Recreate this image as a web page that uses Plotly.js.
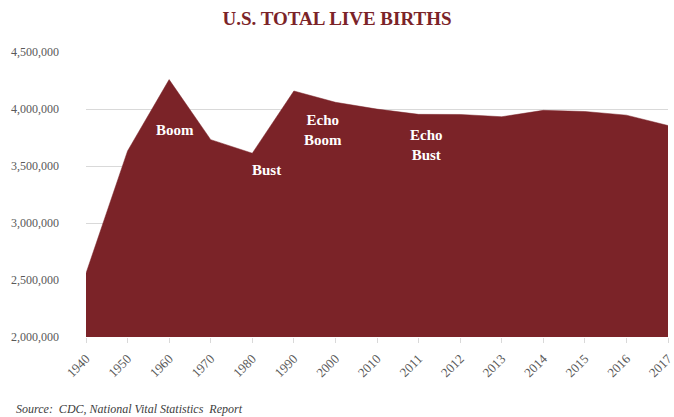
<!DOCTYPE html>
<html>
<head>
<meta charset="utf-8">
<script src="https://cdn.plot.ly/plotly-3.0.1.min.js"></script>
<style>html,body{margin:0;padding:0;background:#fff;}#chart{width:674px;height:417px;}</style>
</head>
<body>
<div id="chart"></div>
<script>
const years = ["1940","1950","1960","1970","1980","1990","2000","2010","2011","2012","2013","2014","2015","2016","2017"];
const births = [2559000,3632000,4258000,3731000,3612000,4158000,4059000,3999000,3953000,3952000,3932000,3988000,3978000,3946000,3855000];
const labels = ["Boom","Bust","Echo<br>Boom","Echo<br>Bust"];
const labelYears = [2.14, 4.33, 5.70, 8.18];
const labelValues = [3816000, 3465000, 3816000, 3684000];
</script>
<script>
const red = '#7B2328';
const serif = 'Liberation Serif, DejaVu Serif, serif';
const trace = {
  x: years, y: births, type: 'scatter', mode: 'lines',
  fill: 'tozeroy', fillcolor: red, line: {color: red, width: 0.5},
  hoverinfo: 'skip'
};
const layout = {
  width: 674, height: 417,
  margin: {l: 86, r: 6, t: 52, b: 80},
  paper_bgcolor: '#fff', plot_bgcolor: '#fff',
  showlegend: false,
  title: {text: '<b>U.S. TOTAL LIVE BIRTHS</b>', font: {family: serif, size: 19, color: red}, x: 0.5, xanchor: 'center', y: 0.957, yanchor: 'middle'},
  xaxis: {
    type: 'category', range: [0, years.length - 1],
    tickangle: -45, ticks: 'outside', ticklen: 5, tickcolor: '#d9d9d9',
    ticklabelstandoff: 3,
    showgrid: false, zeroline: false, showline: false,
    tickfont: {family: serif, size: 13, color: '#595959'}
  },
  yaxis: {
    range: [2000000, 4500000], dtick: 500000, tickformat: ',d',
    showgrid: true, gridcolor: '#d9d9d9', zeroline: false, showline: false,
    ticks: '', ticklabelstandoff: 26,
    tickfont: {family: serif, size: 12, color: '#595959'}
  },
  annotations: labels.map((t, i) => ({
    x: labelYears[i], y: labelValues[i], text: '<b>' + t + '</b>',
    xref: 'x', yref: 'y', showarrow: false,
    font: {family: serif, size: 15, color: '#fff'}
  })).concat([
    {xref: 'paper', yref: 'paper', x: -0.124, y: -0.253, xanchor: 'left', yanchor: 'middle', showarrow: false,
     text: '<i>Source:  CDC, National Vital Statistics  Report</i>', font: {family: serif, size: 12, color: '#404040'}}
  ])
};
Plotly.newPlot('chart', [trace], layout, {displayModeBar: false, staticPlot: true});
</script>
</body>
</html>
